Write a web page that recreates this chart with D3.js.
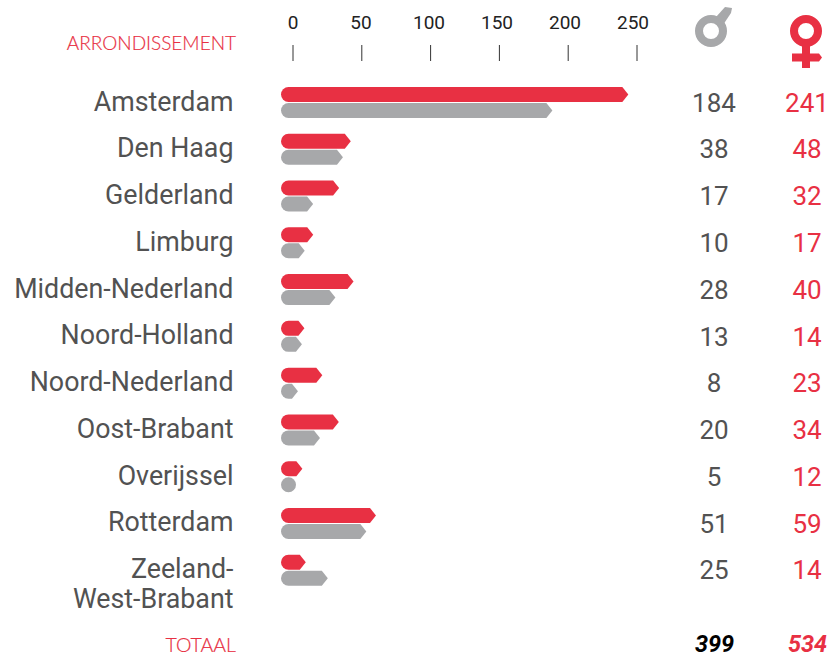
<!DOCTYPE html>
<html>
<head>
<meta charset="utf-8">
<script src="https://d3js.org/d3.v7.min.js"></script>
<style>
html, body { margin: 0; background: #fff; }
svg { display: block; }
text { font-family: Roboto, sans-serif; }
.row-label { font-size: 26.8px; fill: #525252; text-anchor: end; }
.head-label { font-family: Lato, sans-serif; font-weight: 300; fill: #e83043; stroke: #e83043; stroke-width: 0.2px; text-anchor: end; }
.tick-label { font-size: 19px; fill: #222; text-anchor: middle; }
.num { font-size: 26px; text-anchor: middle; }
.total { font-size: 23.5px; font-weight: 700; font-style: italic; text-anchor: middle; }
</style>
</head>
<body>
<script>
var categories = ["Amsterdam", "Den Haag", "Gelderland", "Limburg", "Midden-Nederland", "Noord-Holland",
  "Noord-Nederland", "Oost-Brabant", "Overijssel", "Rotterdam", "Zeeland-|West-Brabant"];
var men = [184, 38, 17, 10, 28, 13, 8, 20, 5, 51, 25];
var women = [241, 48, 32, 17, 40, 14, 23, 34, 12, 59, 14];
var ticks = [0, 50, 100, 150, 200, 250];
var totals = [399, 534];

// bars in the picture do not sit exactly on the printed numbers, so read them off the axis
var menBars = [188.5, 36.3, 14.6, 8.5, 30.8, 6.5, 3.6, 19.6, 2, 53.3, 25.3];
var womenBars = [243.7, 42, 33.5, 14.7, 44, 8.3, 21.3, 33.3, 6.8, 60.3, 9.3];

var red = "#e83043", grey = "#a7a8aa";

var svg = d3.select("body").append("svg").attr("width", 830).attr("height", 657);

var x = d3.scaleLinear().domain([0, 250]).range([293, 637]);
var xLabel = d3.scaleLinear().domain([0, 250]).range([293, 633]); // labels drift a bit from the ticks
var y = d3.scaleBand().domain(d3.range(categories.length)).range([79, 593.5]);
var r = 7.5, point = 6, barLeft = 281;

function bar(v) {
  // rounded on the left, pointed on the right
  var tip = x(v), c = barLeft + r;
  if (tip <= barLeft + r * 2) {
    return "M" + c + ",0 A" + r + "," + r + " 0 1 1 " + c + "," + (r * 2) + " A" + r + "," + r + " 0 1 1 " + c + ",0 Z";
  }
  var shoulder = Math.max(tip - point, c);
  return "M" + c + ",0 L" + shoulder + ",0 L" + tip + "," + r + " L" + shoulder + "," + (r * 2) +
    " L" + c + "," + (r * 2) + " A" + r + "," + r + " 0 0 1 " + c + ",0 Z";
}

// axis
svg.selectAll(".tick-label").data(ticks).enter().append("text")
  .attr("class", "tick-label")
  .attr("x", function(d) { return xLabel(d); })
  .attr("y", 29)
  .text(function(d) { return d; });
svg.selectAll(".tick").data(ticks).enter().append("line")
  .attr("x1", function(d) { return x(d); })
  .attr("x2", function(d) { return x(d); })
  .attr("y1", 45).attr("y2", 61)
  .attr("stroke", "#333").attr("stroke-width", 1);

svg.append("text").attr("class", "head-label").attr("x", 236).attr("y", 50)
  .style("font-size", "19px").text("ARRONDISSEMENT");
svg.append("text").attr("class", "head-label").attr("x", 236).attr("y", 652)
  .style("font-size", "19.5px").text("TOTAAL");

var rows = svg.selectAll(".row").data(categories).enter().append("g")
  .attr("class", "row")
  .attr("transform", function(d, i) { return "translate(0," + y(i) + ")"; });

rows.append("path").attr("d", function(d, i) { return bar(womenBars[i]); })
  .attr("fill", red).attr("transform", "translate(0,8)");
rows.append("path").attr("d", function(d, i) { return bar(menBars[i]); })
  .attr("fill", grey).attr("transform", "translate(0,24)");

rows.each(function(d) {
  var parts = d.split("|");
  var label = d3.select(this).append("text").attr("class", "row-label");
  parts.forEach(function(p, j) {
    label.append("tspan").attr("x", 233.5).attr("y", 31.5 + j * 30).text(p);
  });
});

rows.append("text").attr("class", "num").attr("x", 714).attr("y", 32.7)
  .attr("fill", "#525252").text(function(d, i) { return men[i]; });
rows.append("text").attr("class", "num").attr("x", 807).attr("y", 32.7)
  .attr("fill", red).text(function(d, i) { return women[i]; });

svg.append("text").attr("class", "total").attr("x", 714.5).attr("y", 652).attr("fill", "#000").text(totals[0]);
svg.append("text").attr("class", "total").attr("x", 807.5).attr("y", 652).attr("fill", red).text(totals[1]);

// gender symbols
svg.append("circle").attr("cx", 711).attr("cy", 31).attr("r", 12)
  .attr("fill", "none").attr("stroke", grey).attr("stroke-width", 8);
svg.append("path").attr("d", "M716,17 L725,7 L732,8 L731,13 L723,25 Z").attr("fill", grey);

svg.append("circle").attr("cx", 806).attr("cy", 31).attr("r", 12)
  .attr("fill", "none").attr("stroke", red).attr("stroke-width", 8);
svg.append("path").attr("d", "M802,44 L810,44 L810,53.5 L819,53.5 L822,57.5 L819,61.5 L810,61.5 L810,68 L802,68 L802,61.5 L792,61.5 L792,53.5 L802,53.5 Z").attr("fill", red);
</script>
</body>
</html>
